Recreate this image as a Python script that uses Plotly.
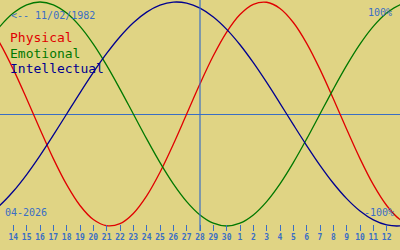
import plotly.graph_objects as go

# ---- data ----
# day index: April day number, May days continue as 31, 32, ...
days = [12, 13, 14, 15, 16, 17, 18, 19, 20, 21, 22, 23, 24, 25, 26, 27, 28,
        29, 30, 31, 32, 33, 34, 35, 36, 37, 38, 39, 40, 41, 42, 43, 44]

physical = [0.8170, 0.6311, 0.3984, 0.1362, -0.1362, -0.3984, -0.6311, -0.8170,
            -0.9423, -0.9977, -0.9791, -0.8879, -0.7308, -0.5196, -0.2698, 0.0,
            0.2698, 0.5196, 0.7308, 0.8879, 0.9791, 0.9977, 0.9423, 0.8170,
            0.6311, 0.3984, 0.1362, -0.1362, -0.3984, -0.6311, -0.8170, -0.9423,
            -0.9977]

emotional = [0.6235, 0.7818, 0.9010, 0.9749, 1.0, 0.9749, 0.9010, 0.7818,
             0.6235, 0.4339, 0.2225, 0.0, -0.2225, -0.4339, -0.6235, -0.7818,
             -0.9010, -0.9749, -1.0, -0.9749, -0.9010, -0.7818, -0.6235, -0.4339,
             -0.2225, 0.0, 0.2225, 0.4339, 0.6235, 0.7818, 0.9010, 0.9749, 1.0]

intellectual = [-0.9096, -0.8146, -0.6901, -0.5406, -0.3717, -0.1893, 0.0, 0.1893,
                0.3717, 0.5406, 0.6901, 0.8146, 0.9096, 0.9718, 0.9989, 0.9898,
                0.9450, 0.8660, 0.7557, 0.6182, 0.4582, 0.2817, 0.0951, -0.0951,
                -0.2817, -0.4582, -0.6182, -0.7557, -0.8660, -0.9450, -0.9898,
                -0.9989, -0.9718]

tick_days = [14, 15, 16, 17, 18, 19, 20, 21, 22, 23, 24, 25, 26, 27, 28, 29, 30,
             31, 32, 33, 34, 35, 36, 37, 38, 39, 40, 41, 42]
tick_labels = ["14", "15", "16", "17", "18", "19", "20", "21", "22", "23", "24",
               "25", "26", "27", "28", "29", "30", "1", "2", "3", "4", "5", "6",
               "7", "8", "9", "10", "11", "12"]

today = 28
birth_label = "<-- 11/02/1982"
month_label = "04-2026"
series_names = ["Physical", "Emotional", "Intellectual"]

# ---- style ----
BG = "#e0d484"
BLUE = "#3a6ec4"
COLORS = ["#e00000", "#007800", "#000090"]
W, H = 400, 250
PLOT_H = 231

fig = go.Figure()
for name, vals, col in zip(series_names, [physical, emotional, intellectual], COLORS):
    fig.add_trace(go.Scatter(x=days, y=vals, mode="lines", name=name,
                             line=dict(color=col, width=1.3, shape="spline"),
                             showlegend=False, hoverinfo="skip"))

fig.add_vline(x=today, line=dict(color=BLUE, width=1.2))

def px(x):
    return x / W

def py(y):
    return 1 - y / PLOT_H

mono = "DejaVu Sans Mono"
anns = [
    dict(text=birth_label, x=px(9), y=py(16), color=BLUE, size=10, xa="left"),
    dict(text="100%", x=px(394), y=py(12), color=BLUE, size=10, xa="right"),
    dict(text=month_label, x=px(3), y=py(212), color=BLUE, size=10, xa="left"),
    dict(text="-100%", x=px(396), y=py(212), color=BLUE, size=10, xa="right"),
    dict(text=series_names[0], x=px(8), y=py(38), color=COLORS[0], size=13, xa="left"),
    dict(text=series_names[1], x=px(8), y=py(53), color=COLORS[1], size=13, xa="left"),
    dict(text=series_names[2], x=px(8), y=py(68), color=COLORS[2], size=13, xa="left"),
]
for a in anns:
    fig.add_annotation(text=a["text"], x=a["x"], y=a["y"], xref="paper", yref="paper",
                       xanchor=a["xa"], yanchor="middle", showarrow=False,
                       font=dict(family=mono, size=a["size"], color=a["color"]))

ymax = 114 / 112
ymin = (114 - PLOT_H) / 112

fig.update_layout(
    width=W, height=H,
    margin=dict(l=0, r=0, t=0, b=H - PLOT_H),
    paper_bgcolor=BG, plot_bgcolor=BG,
    xaxis=dict(range=[13, 43], tickvals=tick_days, ticktext=tick_labels,
               ticks="inside", ticklen=6, tickwidth=1, tickcolor=BLUE,
               showgrid=False, zeroline=False, showline=False,
               tickfont=dict(family=mono, size=8, color=BLUE, weight="bold")),
    yaxis=dict(range=[ymin, ymax], showgrid=False, showticklabels=False,
               zeroline=True, zerolinecolor=BLUE, zerolinewidth=1.2, showline=False),
)

fig.write_html("out.html")
